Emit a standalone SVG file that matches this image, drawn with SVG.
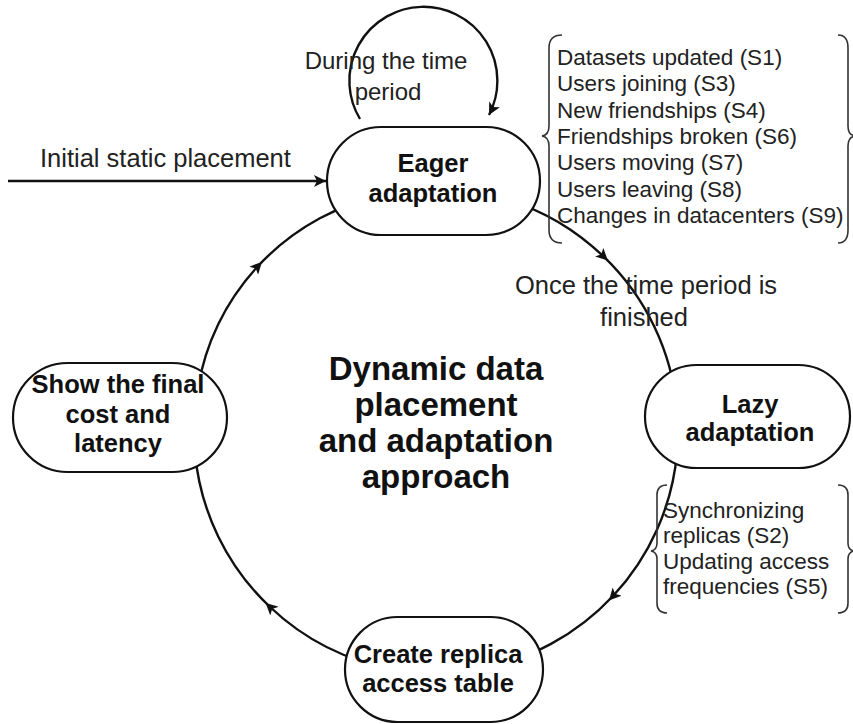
<svg xmlns="http://www.w3.org/2000/svg" width="853" height="724" viewBox="0 0 853 724">
  <style>
    .node { fill: #ffffff; stroke: #111; stroke-width: 2.2; }
    .ntext { font-family: "Liberation Sans", Arial, sans-serif; font-weight: bold; font-size: 25.5px; fill: #111; text-anchor: middle; }
    .label { font-family: "Liberation Sans", Arial, sans-serif; font-size: 24px; fill: #222; }
    .big { font-size: 25.5px; }
    .list { font-family: "Liberation Sans", Arial, sans-serif; font-size: 22.5px; fill: #222; }
    .title { font-family: "Liberation Sans", Arial, sans-serif; font-weight: bold; font-size: 33px; fill: #111; text-anchor: middle; }
    .conn { fill: none; stroke: #111; stroke-width: 2.4; }
    .brace { fill: none; stroke: #333; stroke-width: 1.6; }
  </style>
  <defs>
    <marker id="tri" viewBox="0 0 10 10" refX="5" refY="5" markerWidth="5" markerHeight="5" markerUnits="strokeWidth" orient="auto">
      <path d="M0,0 L10,5 L0,10 L2.5,5 Z" fill="#111"/>
    </marker>
    <marker id="triEnd" viewBox="0 0 10 10" refX="10" refY="5" markerWidth="6" markerHeight="5" markerUnits="strokeWidth" orient="auto">
      <path d="M0,0 L10,5 L0,10 L2.5,5 Z" fill="#111"/>
    </marker>
  </defs>

  <!-- connectors: the adaptation cycle (clockwise), the entry arrow and the self loop -->
  <g id="connectors">
    <!-- Show -> Eager -->
    <path class="conn" marker-mid="url(#tri)" d="M 197.7 389.0 A 242 242 0 0 1 257.8 266.3 A 242 242 0 0 1 394.0 192.7"/>
    <!-- Eager -> Lazy -->
    <path class="conn" marker-mid="url(#tri)" d="M 478.0 192.7 A 242 242 0 0 1 603.5 256.4 A 242 242 0 0 1 677.1 409.9"/>
    <!-- Lazy -> Create -->
    <path class="conn" marker-mid="url(#tri)" d="M 677.1 452.1 A 242 242 0 0 1 613.0 596.0 A 242 242 0 0 1 478.0 669.3"/>
    <!-- Create -> Show -->
    <path class="conn" marker-mid="url(#tri)" d="M 394.0 669.3 A 242 242 0 0 1 270.0 607.0 A 242 242 0 0 1 194.9 452.1"/>
    <!-- initial placement arrow -->
    <path class="conn" stroke-width="2" marker-end="url(#triEnd)" d="M 8 181 L 326 181"/>
    <!-- self loop on eager adaptation -->
    <path class="conn" stroke-width="2.2" marker-end="url(#triEnd)" d="M 360 119 A 74 74 0 1 1 489 115"/>
  </g>

  <!-- list braces -->
  <g id="eager-list">
    <path class="brace" d="M 562 35 Q 549 35 549 48 L 549 126 Q 549 135 542 136 Q 549 137 549 146 L 549 230 Q 549 243 562 243"/>
    <path class="brace" d="M 838 35 Q 848 35 848 48 L 848 126 Q 848 135 855 136 M 855 136 Q 848 137 848 146 L 848 230 Q 848 243 838 243"/>
    <text class="list" x="557" y="65">Datasets updated (S1)</text>
    <text class="list" x="557" y="91.3">Users joining (S3)</text>
    <text class="list" x="557" y="117.6">New friendships (S4)</text>
    <text class="list" x="557" y="143.9">Friendships broken (S6)</text>
    <text class="list" x="557" y="170.2">Users moving (S7)</text>
    <text class="list" x="557" y="196.5">Users leaving (S8)</text>
    <text class="list" x="557" y="222.8">Changes in datacenters (S9)</text>
  </g>

  <g id="lazy-list">
    <path class="brace" d="M 667 485 Q 657 485 657 495 L 657 543 Q 657 550 651 551 Q 657 552 657 559 L 657 603 Q 657 613 667 613"/>
    <path class="brace" d="M 838 485 Q 848 485 848 495 L 848 543 Q 848 550 854 551 Q 848 552 848 559 L 848 603 Q 848 613 838 613"/>
    <text class="list" x="663" y="518">Synchronizing</text>
    <text class="list" x="663" y="543">replicas (S2)</text>
    <text class="list" x="663" y="568.5">Updating access</text>
    <text class="list" x="663" y="594">frequencies (S5)</text>
  </g>

  <!-- nodes -->
  <g id="eager">
    <rect class="node" x="327" y="127" width="213" height="108" rx="54" ry="54"/>
    <text class="ntext" x="433" y="172">Eager</text>
    <text class="ntext" x="433" y="202">adaptation</text>
  </g>

  <g id="lazy">
    <rect class="node" x="645" y="365" width="205" height="103" rx="51.5" ry="51.5"/>
    <text class="ntext" x="750" y="413">Lazy</text>
    <text class="ntext" x="750" y="441">adaptation</text>
  </g>

  <g id="create">
    <rect class="node" x="345" y="617" width="198" height="105" rx="52.5" ry="52.5"/>
    <text class="ntext" x="438" y="663">Create replica</text>
    <text class="ntext" x="438" y="692">access table</text>
  </g>

  <g id="show">
    <rect class="node" x="13" y="363" width="214" height="109" rx="54.5" ry="54.5"/>
    <text class="ntext" x="118" y="393">Show the final</text>
    <text class="ntext" x="118" y="423">cost and</text>
    <text class="ntext" x="118" y="452">latency</text>
  </g>

  <!-- free labels -->
  <g id="labels">
    <text class="label big" x="40" y="167">Initial static placement</text>
    <text class="label" x="386" y="69" text-anchor="middle">During the time</text>
    <text class="label" x="388" y="100" text-anchor="middle">period</text>
    <text class="label big" x="646" y="294" text-anchor="middle">Once the time period is</text>
    <text class="label big" x="644" y="326" text-anchor="middle">finished</text>
  </g>

  <g id="center-title">
    <text class="title" x="436" y="380">Dynamic data</text>
    <text class="title" x="436" y="416">placement</text>
    <text class="title" x="436" y="452">and adaptation</text>
    <text class="title" x="436" y="488">approach</text>
  </g>
</svg>
